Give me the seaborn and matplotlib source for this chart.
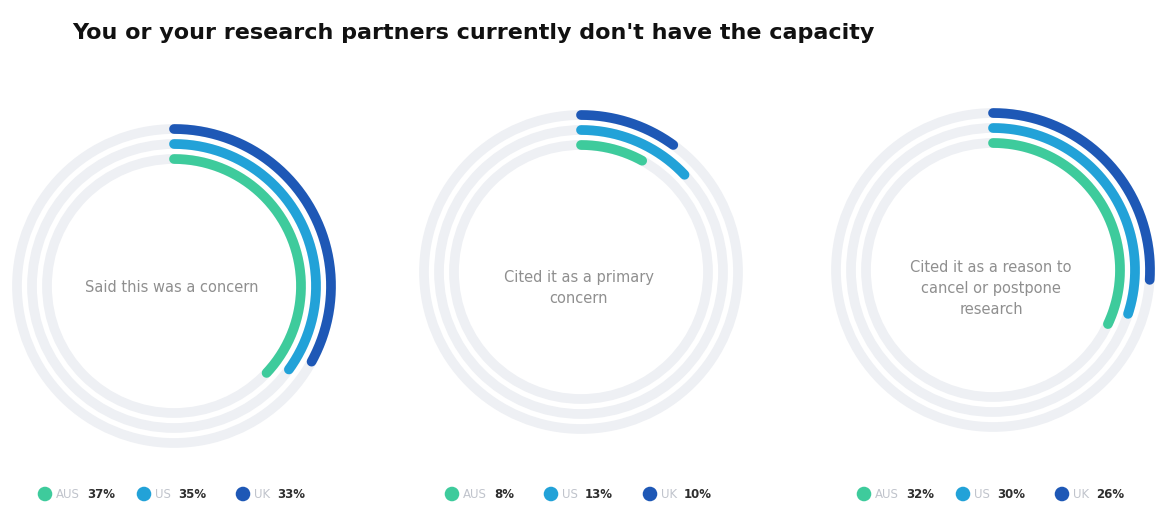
import numpy as np
import matplotlib
matplotlib.use("Agg")
import matplotlib.pyplot as plt
from matplotlib.patches import Circle
import seaborn as sns

# Survey figures per country, one value per ring chart
titles = [
    "Said this was a concern",
    "Cited it as a primary\nconcern",
    "Cited it as a reason to\ncancel or postpone\nresearch",
]
countries = ["AUS", "US", "UK"]
aus = [37, 8, 32]
us = [35, 13, 30]
uk = [33, 10, 26]
heading = "You or your research partners currently don't have the capacity"

colors = {"AUS": "#3ecb9c", "US": "#22a2d8", "UK": "#1e58b6"}
track_color = "#eef0f4"

sns.set_theme(style="white")
plt.rcParams["font.family"] = ["DejaVu Sans"]

W, H = 1158, 508
fig = plt.figure(figsize=(W / 100, H / 100), dpi=100)
ax = fig.add_axes([0, 0, 1, 1])
ax.set_xlim(0, W)
ax.set_ylim(H, 0)
ax.set_aspect("equal")
ax.axis("off")

centers = [(174, 286), (581, 272), (993, 270)]
radii = {"AUS": 127, "US": 142, "UK": 157}
lw = 7.0  # points, ~10 px

values = {"AUS": aus, "US": us, "UK": uk}

for i, (cx, cy) in enumerate(centers):
    # background tracks
    for c in countries:
        ax.add_patch(Circle((cx, cy), radii[c], fill=False,
                            edgecolor=track_color, lw=lw, zorder=1))
    # value arcs, clockwise from 12 o'clock
    for c in countries:
        v = values[c][i]
        theta = np.linspace(0, np.deg2rad(v * 3.6), 200)
        r = radii[c]
        xs = cx + r * np.sin(theta)
        ys = cy - r * np.cos(theta)
        sns.lineplot(x=xs, y=ys, sort=False, estimator=None, ax=ax,
                     color=colors[c], lw=lw, solid_capstyle="round",
                     legend=False, zorder=3)
    # centre caption
    ax.text(cx - 2, 288, titles[i], ha="center", va="center",
            fontsize=10.5, color="#8f8f8f", linespacing=1.5, zorder=4)

    # legend row under each ring
    lx0 = cx - 129
    for j, c in enumerate(countries):
        dx = lx0 + j * 99
        sns.scatterplot(x=[dx], y=[494], ax=ax, s=110, color=colors[c],
                        edgecolor="none", legend=False, zorder=4)
        lab = ax.text(dx + 11, 498.5, c, ha="left", va="baseline",
                      fontsize=8.5, color="#c0c4cc", zorder=4)
        ax.annotate(f"{values[c][i]}%", xy=(1, 0), xycoords=lab,
                    xytext=(5, 0), textcoords="offset points",
                    ha="left", va="bottom", fontsize=8.5, fontweight="bold",
                    color="#2e2e2e", zorder=4)

ax.text(72, 33, heading, ha="left", va="center", fontsize=16,
        fontweight="bold", color="#111111")

fig.savefig("out.png", dpi=100, facecolor="white")
